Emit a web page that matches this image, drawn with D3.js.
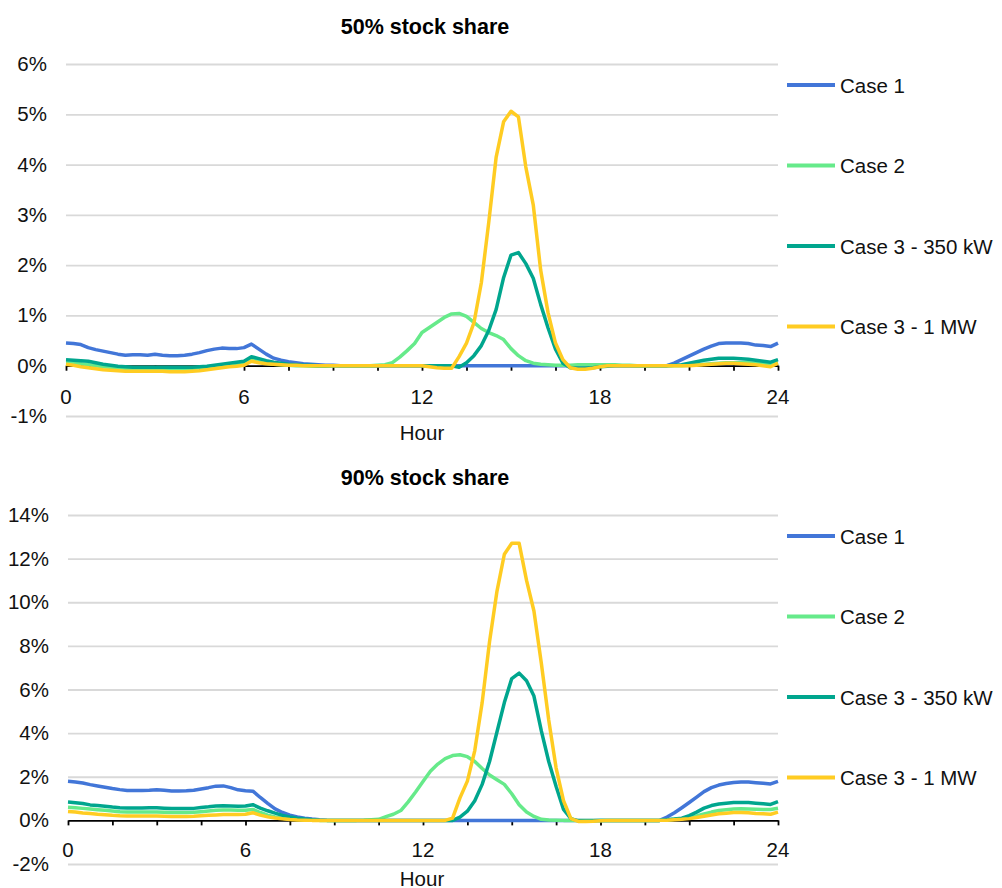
<!DOCTYPE html>
<html>
<head>
<meta charset="utf-8">
<script src="https://cdn.jsdelivr.net/npm/d3@7"></script>
<style>
  body { margin: 0; background: #fff; }
  svg { display: block; font-family: "Liberation Sans", Arial, sans-serif; }
</style>
</head>
<body>
<div id="chart"></div>
<script>
// time axis, 15 minute steps
const hours = d3.range(0, 24.001, 0.25);

const seriesNames = ["Case 1", "Case 2", "Case 3 - 350 kW", "Case 3 - 1 MW"];
const colors = ["#4276d8", "#66ea8a", "#00a68e", "#ffcc22"];

const xTickLabels = [0, 6, 12, 18, 24];
const xTickMarks = d3.range(0, 24.001, 1.5);

// ---- 50% stock share (values in %) ----
const top_case1 = [
  0.45, 0.44, 0.42, 0.36,  0.32, 0.29, 0.26, 0.23,  0.21, 0.22, 0.22, 0.21,
  0.23, 0.21, 0.20, 0.20,  0.21, 0.23, 0.26, 0.30,  0.33, 0.35, 0.34, 0.34,
  0.36, 0.43, 0.33, 0.23,  0.15, 0.11, 0.08, 0.06,  0.04, 0.03, 0.02, 0.01,
  0.01, 0, 0, 0,  0, 0, 0, 0,  0, 0, 0, 0,
  0, 0, 0, 0,  0, 0, 0, 0,  0, 0, 0, 0,
  0, 0, 0, 0,  0, 0, 0, 0,  0, 0, 0, 0,
  0, 0, 0, 0,  0, 0, 0, 0,  0, 0, 0.05, 0.12,
  0.19, 0.26, 0.33, 0.39,  0.44, 0.45, 0.45, 0.45,  0.44, 0.41, 0.40, 0.38,
  0.45
];
const top_case2 = [
  0.06, 0.05, 0.04, 0.02,  0.0, -0.02, -0.03, -0.04,  -0.05, -0.05, -0.05, -0.05,
  -0.05, -0.05, -0.05, -0.05,  -0.05, -0.05, -0.04, -0.03,  -0.02, -0.01, 0.0, 0.02,
  0.04, 0.12, 0.08, 0.05,  0.03, 0.02, 0.01, 0.0,  0.0, -0.01, -0.01, -0.01,
  0, 0, 0, 0,  0, 0, 0.01, 0.02,  0.06, 0.17, 0.30, 0.44,
  0.66, 0.76, 0.86, 0.96,  1.03, 1.04, 0.98, 0.86,  0.74, 0.66, 0.60, 0.52,
  0.34, 0.20, 0.10, 0.05,  0.03, 0.02, 0.01, 0.01,  0.01, 0.02, 0.02, 0.02,
  0.02, 0.02, 0.02, 0.01,  0.01, 0, 0, 0,  0, 0, 0, 0,
  0.01, 0.02, 0.03, 0.04,  0.05, 0.06, 0.06, 0.06,  0.06, 0.05, 0.04, 0.03,
  0.06
];
const top_case3a = [
  0.12, 0.11, 0.10, 0.09,  0.06, 0.03, 0.01, -0.01,  -0.02, -0.03, -0.03, -0.03,
  -0.03, -0.03, -0.03, -0.03,  -0.03, -0.03, -0.02, -0.01,  0.01, 0.03, 0.05, 0.07,
  0.09, 0.18, 0.14, 0.10,  0.07, 0.05, 0.03, 0.02,  0.01, 0.01, 0, 0,
  0, 0, 0, 0,  0, 0, 0, 0,  0, 0, 0, 0,
  0, 0, 0, 0,  0, -0.03, 0.06, 0.20,  0.40, 0.70, 1.12, 1.75,
  2.20, 2.25, 2.03, 1.74,  1.22, 0.75, 0.33, 0.05,  -0.04, -0.05, -0.05, -0.04,
  -0.02, -0.01, 0, 0,  0, 0, 0, 0,  0, 0, 0.01, 0.02,
  0.05, 0.08, 0.11, 0.13,  0.15, 0.15, 0.15, 0.14,  0.13, 0.11, 0.09, 0.07,
  0.12
];
const top_case3b = [
  0.03, 0.01, -0.02, -0.04,  -0.06, -0.08, -0.09, -0.10,  -0.11, -0.11, -0.11, -0.11,
  -0.11, -0.11, -0.12, -0.12,  -0.12, -0.11, -0.10, -0.08,  -0.06, -0.04, -0.02, -0.01,
  0.01, 0.09, 0.06, 0.04,  0.03, 0.02, 0.01, 0.01,  0, 0, 0, 0,
  0, 0, 0, 0,  0, 0, 0, 0,  0, 0, 0, 0,
  0, -0.02, -0.04, -0.05,  -0.05, 0.18, 0.45, 0.85,  1.65, 2.85, 4.15, 4.85,
  5.06, 4.95, 3.95, 3.20,  1.90, 1.05, 0.45, 0.12,  -0.04, -0.07, -0.07, -0.05,
  -0.02, 0, 0, 0,  0, 0, 0, 0,  0, 0, 0, 0,
  0, 0.01, 0.02, 0.03,  0.04, 0.05, 0.05, 0.04,  0.03, 0.02, 0.0, -0.02,
  0.05
];

// ---- 90% stock share (values in %) ----
const bot_case1 = [
  1.79, 1.76, 1.71, 1.64,  1.58, 1.52, 1.46, 1.41,  1.37, 1.37, 1.37, 1.38,
  1.40, 1.38, 1.35, 1.35,  1.36, 1.38, 1.44, 1.50,  1.57, 1.58, 1.50, 1.40,
  1.36, 1.34, 1.05, 0.78,  0.53, 0.36, 0.24, 0.16,  0.10, 0.06, 0.03, 0.01,
  0, 0, 0, 0,  0, 0, 0, 0,  0, 0, 0, 0,
  0, 0, 0, 0,  0, 0, 0, 0,  0, 0, 0, 0,
  0, 0, 0, 0,  0, 0, 0, 0,  0, 0, 0, 0,
  0, 0, 0, 0,  0, 0, 0, 0,  0, 0.15, 0.35, 0.58,
  0.82, 1.07, 1.32, 1.50,  1.62, 1.69, 1.74, 1.76,  1.76, 1.73, 1.70, 1.67,
  1.79
];
const bot_case2 = [
  0.60, 0.58, 0.55, 0.52,  0.49, 0.46, 0.43, 0.40,  0.38, 0.38, 0.38, 0.38,
  0.38, 0.37, 0.36, 0.36,  0.36, 0.37, 0.40, 0.43,  0.46, 0.48, 0.47, 0.46,
  0.46, 0.50, 0.36, 0.24,  0.16, 0.10, 0.06, 0.04,  0.02, 0.01, 0, 0,
  0, 0, 0, 0,  0.01, 0.03, 0.05, 0.17,  0.28, 0.45, 0.85, 1.30,
  1.78, 2.25, 2.58, 2.83,  2.97, 3.01, 2.92, 2.70,  2.38, 2.08, 1.86, 1.65,
  1.22, 0.72, 0.38, 0.18,  0.05, 0.02, 0.01, 0,  0, 0, 0, 0,
  0, 0, 0, 0,  0, 0, 0, 0,  0, 0.02, 0.05, 0.08,
  0.12, 0.20, 0.30, 0.38,  0.45, 0.49, 0.52, 0.53,  0.52, 0.51, 0.50, 0.50,
  0.56
];
const bot_case3a = [
  0.84, 0.81, 0.77, 0.71,  0.68, 0.65, 0.61, 0.58,  0.57, 0.57, 0.57, 0.58,
  0.58, 0.56, 0.54, 0.54,  0.54, 0.55, 0.59, 0.62,  0.66, 0.67, 0.66, 0.65,
  0.66, 0.72, 0.56, 0.44,  0.33, 0.23, 0.16, 0.10,  0.06, 0.03, 0.01, 0,
  0, 0, 0, 0,  0, 0, 0, 0,  0, 0, 0, 0,
  0, 0, 0, 0,  0, 0.15, 0.42, 0.90,  1.65, 2.70, 4.05, 5.40,
  6.50, 6.75, 6.40, 5.70,  4.10, 2.70, 1.55, 0.50,  0.08, -0.02, -0.03, -0.02,
  0, 0, 0, 0,  0, 0, 0, 0,  0, 0.03, 0.06, 0.10,
  0.22, 0.38, 0.56, 0.68,  0.75, 0.79, 0.82, 0.82,  0.82, 0.79, 0.76, 0.73,
  0.86
];
const bot_case3b = [
  0.41, 0.38, 0.34, 0.31,  0.28, 0.26, 0.23, 0.21,  0.20, 0.20, 0.20, 0.20,
  0.20, 0.19, 0.18, 0.18,  0.18, 0.19, 0.21, 0.23,  0.25, 0.27, 0.27, 0.27,
  0.28, 0.35, 0.24, 0.16,  0.11, 0.07, 0.04, 0.02,  0.01, 0, 0, 0,
  0, 0, 0, 0,  0, 0, 0, 0,  0, 0, 0, 0,
  0, 0, 0, 0,  0.10, 1.03, 1.80, 3.20,  5.40, 8.20, 10.50, 12.20,
  12.70, 12.70, 11.00, 9.60,  7.20, 4.60, 2.40, 0.90,  0.08, -0.05, -0.05, -0.04,
  -0.02, 0, 0, 0,  0, 0, 0, 0,  0, 0.01, 0.03, 0.05,
  0.08, 0.13, 0.19, 0.25,  0.30, 0.33, 0.36, 0.36,  0.35, 0.32, 0.30, 0.28,
  0.38
];

const panels = [
  { title: "50% stock share", yTicks: [-1, 0, 1, 2, 3, 4, 5, 6],
    series: [top_case1, top_case2, top_case3a, top_case3b],
    x0: 66, x1: 778, yTop: 64, yBot: 416, titleY: 27, hourY: 432, labY: 396 },
  { title: "90% stock share", yTicks: [-2, 0, 2, 4, 6, 8, 10, 12, 14],
    series: [bot_case1, bot_case2, bot_case3a, bot_case3b],
    x0: 68, x1: 778, yTop: 515, yBot: 864, titleY: 478, hourY: 878, labY: 849 }
];

const W = 1002, H = 888;
const FS = 20.5;
const ink = "#111";
const svg = d3.select("#chart").append("svg")
  .attr("width", W).attr("height", H);

panels.forEach(p => {
  const x = d3.scaleLinear().domain([0, 24]).range([p.x0, p.x1]);
  const y = d3.scaleLinear()
    .domain([d3.min(p.yTicks), d3.max(p.yTicks)])
    .range([p.yBot, p.yTop]);
  const g = svg.append("g");

  // title
  g.append("text")
    .attr("x", 425).attr("y", p.titleY)
    .attr("text-anchor", "middle").attr("dominant-baseline", "central")
    .attr("font-size", 21.5).attr("font-weight", "bold").attr("fill", "#000")
    .text(p.title);

  // gridlines + y labels
  const yAxis = d3.axisLeft(y)
    .tickValues(p.yTicks)
    .tickSize(-(p.x1 - p.x0))
    .tickPadding(19)
    .tickFormat(d => d + "%");
  const ya = g.append("g").attr("transform", `translate(${p.x0},0)`).call(yAxis);
  ya.select(".domain").remove();
  ya.selectAll(".tick line")
    .attr("stroke", d => d === 0 ? "none" : "#d9d9d9")
    .attr("stroke-width", 1.8);
  ya.selectAll(".tick text")
    .attr("font-size", FS).attr("fill", ink)
    .attr("font-family", "Liberation Sans, Arial, sans-serif");

  // zero axis with hour ticks
  const xAxis = d3.axisBottom(x)
    .tickValues(xTickMarks)
    .tickSize(5)
    .tickSizeOuter(0)
    .tickFormat("");
  const xa = g.append("g").attr("transform", `translate(0,${y(0)})`).call(xAxis);
  xa.select(".domain").attr("stroke", "#000").attr("stroke-width", 1.8);
  xa.selectAll(".tick line").attr("stroke", "#000").attr("stroke-width", 1.8);

  // x labels
  g.selectAll(".xl").data(xTickLabels).enter().append("text")
    .attr("x", d => x(d)).attr("y", p.labY)
    .attr("text-anchor", "middle").attr("dominant-baseline", "central")
    .attr("font-size", FS).attr("fill", ink)
    .text(d => d);

  g.append("text")
    .attr("x", 422).attr("y", p.hourY)
    .attr("text-anchor", "middle").attr("dominant-baseline", "central")
    .attr("font-size", FS).attr("fill", ink)
    .text("Hour");

  // lines
  const line = d3.line()
    .x((d, i) => x(hours[i]))
    .y(d => y(d));
  p.series.forEach((s, i) => {
    g.append("path")
      .datum(s)
      .attr("fill", "none")
      .attr("stroke", colors[i])
      .attr("stroke-width", 3.5)
      .attr("stroke-linejoin", "round")
      .attr("d", line);
  });

  // legend
  const leg = g.selectAll(".leg").data(seriesNames).enter().append("g")
    .attr("transform", (d, i) => `translate(787,${p.yTop + 21 + i * 80.5})`);
  leg.append("line")
    .attr("x1", 0).attr("x2", 48)
    .attr("stroke", (d, i) => colors[i]).attr("stroke-width", 4);
  leg.append("text")
    .attr("x", 53).attr("dominant-baseline", "central")
    .attr("font-size", FS).attr("fill", ink)
    .text(d => d);
});
</script>
</body>
</html>
